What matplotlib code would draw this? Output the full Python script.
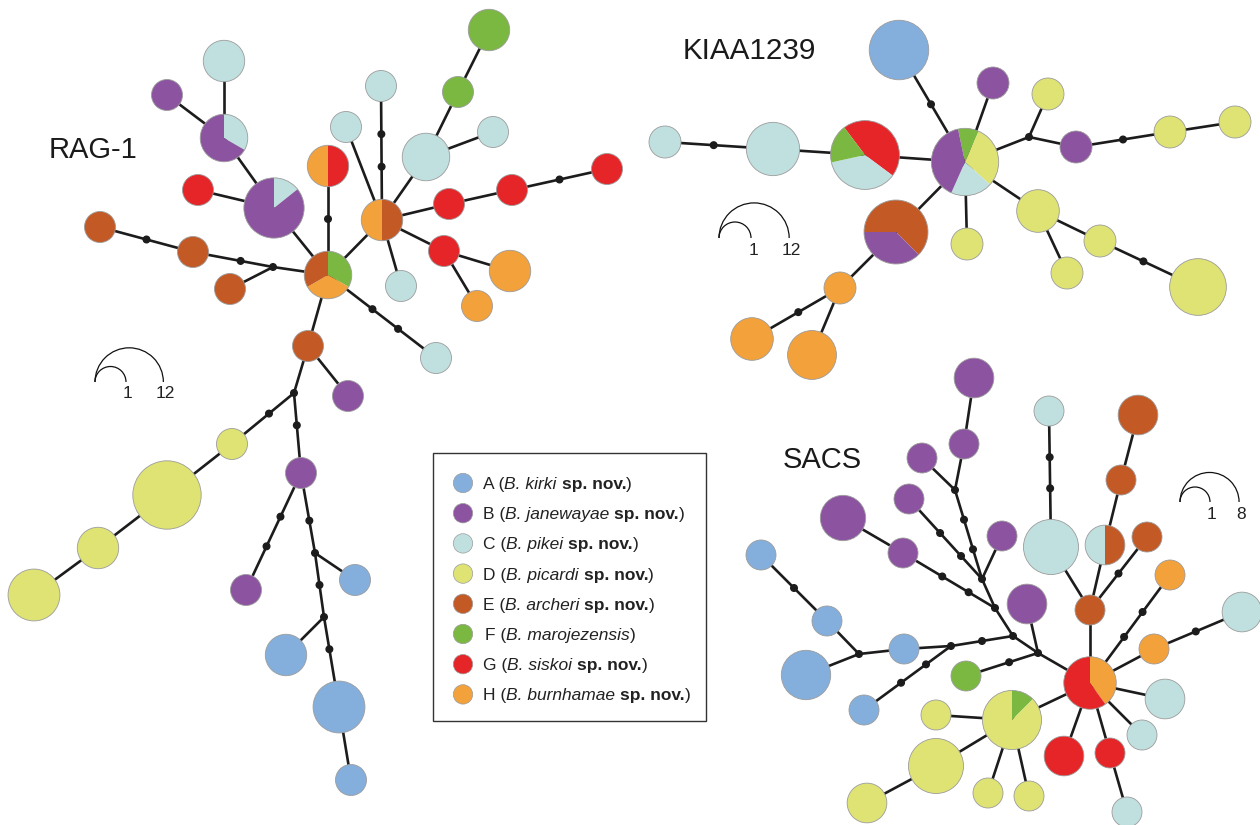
import math
import matplotlib
matplotlib.use("Agg")
import matplotlib.pyplot as plt
from matplotlib.patches import Circle, Wedge, Arc, Rectangle

plt.rcParams['font.family'] = ['Liberation Sans', 'DejaVu Sans']

# ---------------------------------------------------------------- species
SPECIES = ["A", "B", "C", "D", "E", "F", "G", "H"]
SPECIES_COLORS = {
    "A": "#84AFDC", "B": "#8C53A0", "C": "#C0E0DF", "D": "#DEE373",
    "E": "#C35A26", "F": "#7BB842", "G": "#E52528", "H": "#F3A13A",
}
SPECIES_NAMES = ["B. kirki", "B. janewayae", "B. pikei", "B. picardi",
                 "B. archeri", "B. marojezensis", "B. siskoi", "B. burnhamae"]
SPECIES_NEW = [True, True, True, True, True, False, True, True]

# ---------------------------------------------------------------- RAG-1
# haplotype composition: (species, number of individuals); [] = median vector
RAG_HAPS = [
    [("C", 2)], [("B", 1)], [("C", 1), ("B", 2)], [("C", 1), ("B", 6)],
    [("G", 1)], [("E", 1)], [("E", 1)], [("E", 1)], [],
    [("F", 1), ("H", 1), ("E", 1)], [("G", 1), ("H", 1)], [("E", 1), ("H", 1)],
    [("C", 1)], [("C", 1)], [("C", 3)], [("F", 1)], [("F", 2)], [("C", 1)],
    [("G", 1)], [("G", 1)], [("G", 1)], [("G", 1)], [("H", 2)], [("H", 1)],
    [("C", 1)], [("C", 1)], [("E", 1)], [("B", 1)], [],
    [("D", 1)], [("D", 12)], [("D", 2)], [("D", 4)],
    [("B", 1)], [("B", 1)], [], [("A", 1)], [], [("A", 2)], [("A", 4)], [("A", 1)],
]
# links: (haplotype, haplotype, unsampled mutation steps)
RAG_EDGES = [
    (9, 10, 1), (9, 11, 0), (9, 3, 0), (3, 2, 0), (2, 0, 0), (2, 1, 0), (3, 4, 0),
    (9, 8, 0), (8, 7, 0), (8, 6, 1), (6, 5, 1),
    (11, 13, 2), (11, 12, 0), (11, 14, 0), (14, 15, 0), (15, 16, 0), (14, 17, 0),
    (11, 18, 0), (18, 19, 0), (19, 20, 1), (11, 21, 0), (21, 22, 0), (21, 23, 0),
    (11, 24, 0), (9, 25, 2), (9, 26, 0), (26, 27, 0), (26, 28, 0),
    (28, 29, 1), (29, 30, 0), (30, 31, 0), (31, 32, 0),
    (28, 33, 1), (33, 34, 2), (33, 35, 1), (35, 36, 0), (35, 37, 1),
    (37, 38, 0), (37, 39, 1), (39, 40, 0),
]
# layout (pixels)
RAG_X = [224, 167, 224, 274, 198, 100, 193, 230, 273, 328, 328, 382, 346, 381,
         426, 458, 489, 493, 449, 512, 607, 444, 510, 477, 401, 436, 308, 348,
         294, 232, 167, 98, 34, 301, 246, 315, 355, 324, 286, 339, 351]
RAG_Y = [61, 95, 138, 208, 190, 227, 252, 289, 267, 275, 166, 220, 127, 86,
         157, 92, 30, 132, 204, 190, 169, 251, 271, 306, 286, 358, 346, 396,
         393, 444, 495, 548, 595, 473, 590, 553, 580, 617, 655, 707, 780]
RAG_START = {}

# ---------------------------------------------------------------- KIAA1239
KIAA_HAPS = [
    [("C", 1)], [("C", 4)], [("G", 5), ("C", 4), ("F", 2)],
    [("F", 1), ("D", 3), ("C", 2), ("B", 4)],
    [("A", 6)], [("B", 1)], [], [("D", 1)], [("B", 1)], [("D", 1)], [("D", 1)],
    [("D", 2)], [("D", 1)], [("D", 1)], [("D", 5)], [("D", 1)],
    [("E", 5), ("B", 3)], [("H", 1)], [("H", 2)], [("H", 3)],
]
KIAA_EDGES = [
    (0, 1, 1), (1, 2, 0), (2, 3, 0), (4, 3, 1), (5, 3, 0), (3, 6, 0), (6, 7, 0),
    (6, 8, 0), (8, 9, 1), (9, 10, 0), (3, 11, 0), (11, 12, 0), (11, 13, 0),
    (13, 14, 1), (3, 15, 0), (3, 16, 0), (16, 17, 0), (17, 18, 1), (17, 19, 0),
]
KIAA_X = [665, 773, 865, 965, 899, 993, 1029, 1048, 1076, 1170, 1235,
          1038, 1067, 1100, 1198, 967, 896, 840, 752, 812]
KIAA_Y = [142, 149, 155, 162, 50, 83, 137, 94, 147, 132, 122,
          211, 273, 241, 287, 244, 232, 288, 339, 355]
KIAA_START = {2: 127, 3: 102, 16: 180}

# ---------------------------------------------------------------- SACS
SACS_HAPS = [
    [("B", 2)], [("B", 1)], [("B", 1)], [], [], [("B", 1)], [("B", 1)],
    [("B", 3)], [("B", 1)], [], [], [], [("A", 1)], [], [("A", 1)], [("A", 1)],
    [("A", 4)], [("A", 1)], [], [("B", 2)], [("F", 1)], [("H", 2), ("G", 3)],
    [("C", 1)], [("C", 6)], [("E", 1)], [("E", 2)], [("E", 1)],
    [("E", 1), ("C", 1)], [("E", 1)], [("H", 1)], [("H", 1)], [("C", 2)],
    [("C", 2)], [("C", 1)], [("G", 2)], [("G", 1)], [("C", 1)],
    [("F", 1), ("D", 7)], [("D", 1)], [("D", 6)], [("D", 2)], [("D", 1)], [("D", 1)],
]
SACS_EDGES = [
    (0, 1, 0), (1, 3, 0), (2, 3, 0), (3, 4, 2), (5, 4, 2), (6, 4, 0), (7, 8, 0),
    (8, 9, 2), (4, 9, 0), (9, 10, 0), (10, 11, 1), (11, 12, 0), (12, 13, 0),
    (13, 14, 0), (14, 15, 1), (13, 16, 0), (11, 17, 2), (10, 18, 0), (19, 18, 0),
    (20, 18, 1), (18, 21, 0), (22, 23, 2), (23, 24, 0), (25, 26, 0), (26, 27, 0),
    (27, 24, 0), (28, 24, 1), (24, 21, 0), (29, 21, 2), (31, 30, 1), (30, 21, 0),
    (21, 32, 0), (21, 33, 0), (21, 34, 0), (21, 35, 0), (35, 36, 0), (21, 37, 0),
    (38, 37, 0), (37, 39, 0), (39, 40, 0), (37, 41, 0), (37, 42, 0),
]
SACS_X = [974, 964, 922, 955, 982, 909, 1002, 843, 903, 995, 1013, 951, 904,
          859, 827, 761, 806, 864, 1038, 1027, 966, 1090, 1049, 1051, 1090,
          1138, 1121, 1105, 1147, 1170, 1154, 1242, 1165, 1142, 1064, 1110,
          1127, 1012, 936, 936, 867, 988, 1029]
SACS_Y = [378, 444, 458, 490, 579, 499, 536, 518, 553, 608, 636, 646, 649,
          654, 621, 555, 675, 710, 653, 604, 676, 683, 411, 547, 610,
          415, 480, 545, 537, 575, 649, 612, 699, 735, 756, 753,
          812, 720, 715, 766, 803, 793, 796]
SACS_START = {21: 90, 27: 90, 37: 90}

LINE_COLOR = "#1c1c1c"
OUTLINE = "#9c9c9c"

fig = plt.figure(figsize=(12.6, 8.25), dpi=100)
ax = fig.add_axes([0, 0, 1, 1])
ax.set_xlim(0, 1260)
ax.set_ylim(825, 0)
ax.axis("off")


def node_radius(n, r1, k):
    return r1 * (1.0 + k * math.log(n))


def draw_network(xs, ys, haps, edges, start, r1, k):
    radii = [node_radius(sum(c for _, c in h), r1, k) if h else 0.0 for h in haps]
    for i, j, steps in edges:
        ax.plot([xs[i], xs[j]], [ys[i], ys[j]], color=LINE_COLOR, lw=1.9,
                solid_capstyle="round", zorder=1)
        if steps:
            dx, dy = xs[j] - xs[i], ys[j] - ys[i]
            L = math.hypot(dx, dy)
            a, b = radii[i], L - radii[j]
            for s in range(1, steps + 1):
                t = a + (b - a) * s / (steps + 1)
                ax.add_patch(Circle((xs[i] + dx * t / L, ys[i] + dy * t / L), 3.3,
                                    color=LINE_COLOR, zorder=2))
    for idx, h in enumerate(haps):
        x, y, r = xs[idx], ys[idx], radii[idx]
        if not h:
            ax.add_patch(Circle((x, y), 3.3, color=LINE_COLOR, zorder=2))
            continue
        total = sum(c for _, c in h)
        if len(h) == 1:
            ax.add_patch(Circle((x, y), r, facecolor=SPECIES_COLORS[h[0][0]],
                                edgecolor="none", zorder=3))
        else:
            theta = start.get(idx, 90)
            for sp, c in h:
                sweep = 360.0 * c / total
                # slices run clockwise on screen from the start angle
                ax.add_patch(Wedge((x, y), r, -theta, -theta + sweep,
                                   facecolor=SPECIES_COLORS[sp], edgecolor="none",
                                   zorder=3))
                theta -= sweep
        ax.add_patch(Circle((x, y), r, fill=False, edgecolor=OUTLINE, lw=0.6, zorder=4))


def size_key(left, base, small_n, big_n, r1, k, lab_y):
    for n in (small_n, big_n):
        r = node_radius(n, r1, k)
        ax.add_patch(Arc((left + r, base), 2 * r, 2 * r, theta1=180, theta2=360,
                         color="#111111", lw=0.9, zorder=2))
        ax.text(left + 2 * r + 2, lab_y, str(n), fontsize=12.5, ha="center",
                va="baseline", color="#222222")


draw_network(RAG_X, RAG_Y, RAG_HAPS, RAG_EDGES, RAG_START, 15.5, 0.485)
draw_network(KIAA_X, KIAA_Y, KIAA_HAPS, KIAA_EDGES, KIAA_START, 16.0, 0.48)
draw_network(SACS_X, SACS_Y, SACS_HAPS, SACS_EDGES, SACS_START, 15.0, 0.466)

size_key(95, 382, 1, 12, 15.5, 0.485, 398)
size_key(719, 238, 1, 12, 16.0, 0.48, 255)
size_key(1180, 502, 1, 8, 15.0, 0.466, 519)

ax.text(49, 158, "RAG-1", fontsize=21, ha="left", va="baseline", color="#1a1a1a")
ax.text(683, 59, "KIAA1239", fontsize=21.3, ha="left", va="baseline", color="#1a1a1a")
ax.text(783, 468, "SACS", fontsize=21, ha="left", va="baseline", color="#1a1a1a")

# ---------------------------------------------------------------- legend
ax.add_patch(Rectangle((433, 453), 273, 268, fill=False, edgecolor="#333333",
                       lw=1.0, zorder=5))
renderer = fig.canvas.get_renderer()
LEG_SIZE = 12.5
space_px = 0.278 * LEG_SIZE * 100 / 72.0


def rich_line(x, y, pieces):
    for text, style in pieces:
        if text.startswith(" "):
            x += space_px
            text = text.lstrip()
        t = ax.text(x, y, text, fontsize=LEG_SIZE, ha="left", va="baseline",
                    color="#222222", zorder=6,
                    fontstyle="italic" if style == "i" else "normal",
                    fontweight="bold" if style == "b" else "normal")
        bb = t.get_window_extent(renderer)
        x = bb.x1


for i, sp in enumerate(SPECIES):
    yc = 483 + 30.2 * i
    ax.add_patch(Circle((463, yc), 9.7, facecolor=SPECIES_COLORS[sp],
                        edgecolor=OUTLINE, lw=0.5, zorder=6))
    pieces = [(sp + " (", "n"), (SPECIES_NAMES[i], "i")]
    if SPECIES_NEW[i]:
        pieces.append((" sp. nov.", "b"))
    pieces.append((")", "n"))
    rich_line(483 + (2 if sp == "F" else 0), yc + 6, pieces)

fig.savefig("out.png", dpi=100)
